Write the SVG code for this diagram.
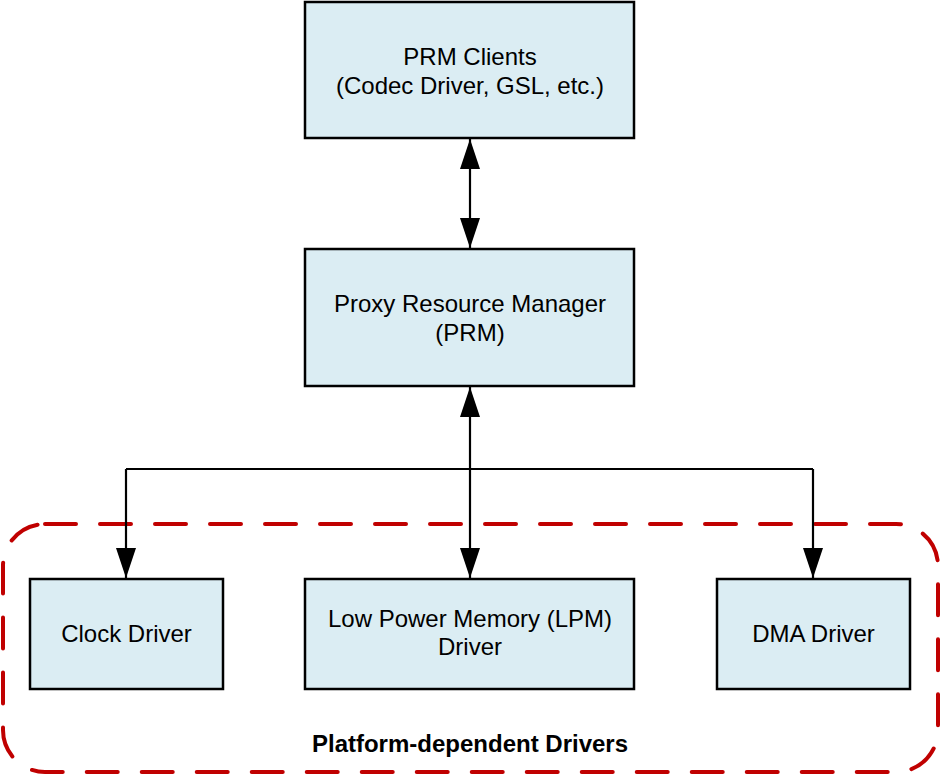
<svg xmlns="http://www.w3.org/2000/svg" width="940" height="775" viewBox="0 0 940 775">
<style>
.box{fill:#dbedf3;stroke:#000;stroke-width:2.5}
.lbl{font-family:"Liberation Sans",Arial,sans-serif;font-size:24px;fill:#000;text-anchor:middle}
.bold{font-weight:bold}
.conn{fill:none;stroke:#000;stroke-width:2.2}
.group{fill:none;stroke:#c00000;stroke-width:4;stroke-dasharray:31 24;stroke-linecap:round}
</style>
<defs>
<marker id="arr" viewBox="0 0 30 20" refX="30" refY="10" markerWidth="30" markerHeight="20" markerUnits="userSpaceOnUse" orient="auto-start-reverse">
<path d="M0,0 L30,10 L0,20 Z" fill="#000"/>
</marker>
</defs>
<rect width="940" height="775" fill="#fff"/>
<g id="group-platform">
<rect class="group" x="3" y="524" width="935" height="248" rx="42" ry="42"/>
<text class="lbl bold" x="470" y="752">Platform-dependent Drivers</text>
</g>
<g id="connectors">
<path class="conn" d="M470,139 L470,248" marker-start="url(#arr)" marker-end="url(#arr)"/>
<path class="conn" d="M470,387 L470,578" marker-start="url(#arr)" marker-end="url(#arr)"/>
<path class="conn" d="M126,469 L813,469"/>
<path class="conn" d="M126,469 L126,578" marker-end="url(#arr)"/>
<path class="conn" d="M813,469 L813,578" marker-end="url(#arr)"/>
</g>
<g id="prm-clients">
<rect class="box" x="305" y="2" width="329" height="136"/>
<text class="lbl" x="470" y="65">PRM Clients</text>
<text class="lbl" x="470" y="94">(Codec Driver, GSL, etc.)</text>
</g>
<g id="prm">
<rect class="box" x="305" y="249" width="329" height="137"/>
<text class="lbl" x="470" y="312">Proxy Resource Manager</text>
<text class="lbl" x="470" y="341">(PRM)</text>
</g>
<g id="clock-driver">
<rect class="box" x="30" y="579" width="193" height="110"/>
<text class="lbl" x="126.5" y="642">Clock Driver</text>
</g>
<g id="lpm-driver">
<rect class="box" x="305" y="579" width="329" height="110"/>
<text class="lbl" x="470" y="627">Low Power Memory (LPM)</text>
<text class="lbl" x="470" y="655">Driver</text>
</g>
<g id="dma-driver">
<rect class="box" x="717" y="579" width="193" height="110"/>
<text class="lbl" x="813.5" y="642">DMA Driver</text>
</g>
</svg>
